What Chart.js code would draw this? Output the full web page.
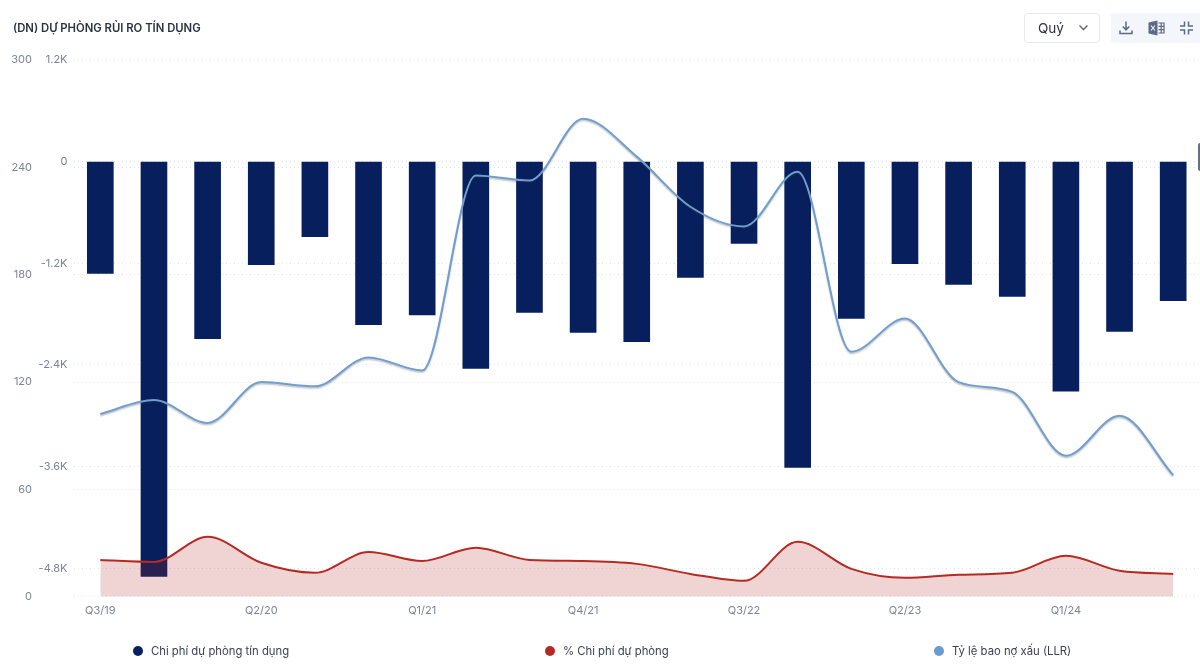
<!DOCTYPE html>
<html>
<head>
<meta charset="utf-8">
<script src="https://cdn.jsdelivr.net/npm/chart.js@4"></script>
<style>
  html, body { margin: 0; padding: 0; background: #fff; font-family: Inter, sans-serif; }
  #wrap { position: relative; width: 1200px; height: 671px; overflow: hidden; }
  #chartBox { position: absolute; left: 0; top: 0; width: 1200px; height: 671px; }
  #title { position: absolute; left: 13px; top: 20px; font-size: 11.3px; line-height: 16px; font-weight: 600; color: #2b3242; white-space: nowrap; }
  #period { position: absolute; left: 1024px; top: 13px; width: 74px; height: 28px; border: 1px solid #e8eaef; border-radius: 4px; font-size: 13.5px; line-height: 28px; color: #2b3242; }
  #period span { position: absolute; left: 13px; }
  #period svg { position: absolute; left: 53px; top: 10px; }
  #tools { position: absolute; left: 1111px; top: 13px; width: 89px; height: 30px; background: #f3f6fb; border-radius: 3px 0 0 3px; }
  #tools svg { position: absolute; top: 7px; }
  #tab { position: absolute; left: 1198px; top: 143px; width: 2px; height: 28px; background: #667085; border-radius: 2px 0 0 2px; }
  .legendItem { position: absolute; top: 643px; font-size: 11.3px; line-height: 16px; color: #3b4252; white-space: nowrap; }
  .legendItem i { position: absolute; left: -18px; top: 3px; width: 10px; height: 10px; border-radius: 50%; }
</style>
</head>
<body>
<div id="wrap">
  <div id="chartBox"><canvas id="riskChart"></canvas></div>
  <div id="title">(DN) DỰ PHÒNG RỦI RO TÍN DỤNG</div>
  <div id="period"><span>Quý</span>
    <svg width="11" height="8" viewBox="0 0 11 8"><path d="M1.5 1.5 L5.5 5.5 L9.5 1.5" fill="none" stroke="#5c6475" stroke-width="1.4"/></svg>
  </div>
  <div id="tools">
    <svg style="left:7px" width="16" height="16" viewBox="0 0 16 16"><path d="M8 1.5 V9.5 M4.8 6.5 L8 9.8 L11.2 6.5 M2 10.5 V13.5 H14 V10.5" fill="none" stroke="#5c6a85" stroke-width="1.5"/></svg>
    <svg style="left:37px" width="17" height="16" viewBox="0 0 17 16"><path d="M0.5 2.5 L9.5 0.5 V15.5 L0.5 13.5 Z" fill="#5c6a85"/><path d="M3 5.5 L7 10.5 M7 5.5 L3 10.5" stroke="#f3f6fb" stroke-width="1.1"/><path d="M10.5 3 H16 V13 H10.5 M10.5 6.3 H16 M10.5 9.6 H16 M13.2 3 V13" fill="none" stroke="#5c6a85" stroke-width="1.2"/></svg>
    <svg style="left:68px" width="15" height="16" viewBox="0 0 15 16"><path d="M5.5 1.5 V6 H1 M9.5 1.5 V6 H14 M5.5 14.5 V10 H1 M9.5 14.5 V10 H14" fill="none" stroke="#5c6a85" stroke-width="1.5"/></svg>
  </div>
  <div id="tab"></div>
  <div class="legendItem" style="left:151px"><i style="background:#071f5c"></i>Chi phí dự phòng tín dụng</div>
  <div class="legendItem" style="left:563px"><i style="background:#b52a22"></i>% Chi phí dự phòng</div>
  <div class="legendItem" style="left:952px"><i style="background:#6a9bd1"></i>Tỷ lệ bao nợ xấu (LLR)</div>
</div>
<script>
// Quarter labels, 21 quarters Q3/19 -> Q3/24
const labels = ['Q3/19','Q4/19','Q1/20','Q2/20','Q3/20','Q4/20','Q1/21','Q2/21','Q3/21','Q4/21','Q1/22','Q2/22','Q3/22','Q4/22','Q1/23','Q2/23','Q3/23','Q4/23','Q1/24','Q2/24','Q3/24'];

// Values
const provisionCost = [-1320,-4895,-2090,-1215,-885,-1925,-1810,-2440,-1780,-2015,-2125,-1365,-965,-3610,-1850,-1205,-1450,-1590,-2710,-2005,-1640];
const provisionPct = [20.6,19.5,33.5,19,13.4,25,20,27.4,20.6,20,18.4,12.8,8.9,30.7,15.6,10.6,12.3,13.4,22.9,14.5,12.8];
const llr = [102.2,110,97.2,120,117.6,133.8,126.5,235.4,232.6,267.2,246,218,207,237.5,137,155.5,120,114.5,78.8,101.2,68];

const leftTicks = [1200, 0, -1200, -2400, -3600, -4800];
const rightTicks = [300, 240, 180, 120, 60, 0];

function fmtK(v) {
  if (v === 0) return '0';
  return (v / 1000) + 'K';
}

// Soft grey shadow under the LLR line
const lineShadow = {
  id: 'lineShadow',
  beforeDatasetDraw(chart, args) {
    if (args.index !== 0) return;
    const c = chart.ctx;
    c.save();
    c.shadowColor = 'rgba(60, 60, 60, 0.3)';
    c.shadowBlur = 1.5;
    c.shadowOffsetY = 1.5;
  },
  afterDatasetDraw(chart, args) {
    if (args.index === 0) chart.ctx.restore();
  }
};

Chart.defaults.font.family = 'Inter, sans-serif';

const ctx = document.getElementById('riskChart').getContext('2d');
new Chart(ctx, {
  plugins: [lineShadow],
  data: {
    labels: labels,
    datasets: [
      {
        type: 'line',
        label: 'Tỷ lệ bao nợ xấu (LLR)',
        data: llr,
        yAxisID: 'yPct',
        borderColor: '#709ecf',
        backgroundColor: '#6a9bd1',
        borderWidth: 2,
        cubicInterpolationMode: 'monotone',
        pointRadius: 0,
        fill: false,
        order: 1
      },
      {
        type: 'line',
        label: '% Chi phí dự phòng',
        data: provisionPct,
        yAxisID: 'yPct',
        borderColor: '#b52a22',
        backgroundColor: 'rgba(181, 42, 34, 0.2)',
        borderWidth: 2,
        cubicInterpolationMode: 'monotone',
        pointRadius: 0,
        fill: 'origin',
        order: 2
      },
      {
        type: 'bar',
        label: 'Chi phí dự phòng tín dụng',
        data: provisionCost,
        yAxisID: 'yCost',
        backgroundColor: '#071f5c',
        barThickness: 26,
        order: 3
      }
    ]
  },
  options: {
    responsive: true,
    maintainAspectRatio: false,
    animation: false,
    layout: { padding: { left: 0, right: 0, top: 60, bottom: 47 } },
    plugins: {
      legend: { display: false },
      tooltip: { enabled: false }
    },
    scales: {
      x: {
        grid: { display: false, drawTicks: false },
        border: { display: false },
        ticks: {
          color: '#7b8496',
          font: { size: 11 },
          padding: 7,
          maxRotation: 0,
          autoSkip: false,
          callback: function (v, i) { return i % 3 === 0 ? labels[i] : ''; }
        }
      },
      yCost: {
        position: 'left',
        min: -5136,
        max: 1200,
        afterBuildTicks: function (axis) { axis.ticks = leftTicks.map(v => ({ value: v })); },
        afterFit: function (axis) { axis.width = 35.5; },
        grid: { color: '#e1e4e9', drawTicks: false },
        border: { display: false, dash: [1, 3] },
        ticks: { color: '#7b8496', font: { size: 11 }, padding: 6, callback: fmtK }
      },
      yPct: {
        position: 'left',
        min: 0,
        max: 300,
        afterBuildTicks: function (axis) { axis.ticks = rightTicks.map(v => ({ value: v })); },
        afterFit: function (axis) { axis.width = 38; },
        grid: { color: '#e1e4e9', drawTicks: false },
        border: { display: false, dash: [1, 3] },
        ticks: { color: '#7b8496', font: { size: 11 }, padding: 6 }
      }
    }
  }
});
</script>
</body>
</html>
